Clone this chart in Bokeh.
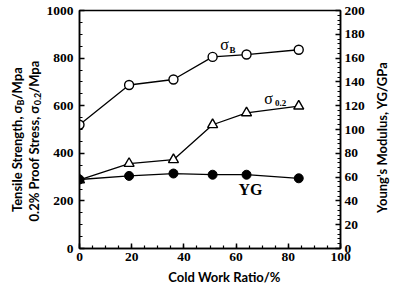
import math
from bokeh.plotting import figure
from bokeh.layouts import row, column
from bokeh.models import Range1d, LinearAxis, SingleIntervalTicker, Label, ColumnDataSource
from bokeh.embed import file_html
from bokeh.resources import INLINE

# ---- data ----
cold_work = [0, 19, 36, 51, 64, 84]          # Cold Work Ratio / %
sigma_b = [520, 687, 710, 805, 815, 835]     # Tensile strength / MPa
sigma_02 = [288, 357, 373, 520, 570, 598]    # 0.2% proof stress / MPa
young = [58, 61, 63, 62, 62, 59]             # Young's modulus / GPa

src = ColumnDataSource(dict(x=cold_work, sb=sigma_b, s02=sigma_02, yg=young))

TICK_FONT = "Liberation Serif"
LAB_FONT = "Lato"
R = math.pi / 2

# layout geometry (canvas px)
H = 283
LEFT_W = 43
FRAME_L, FRAME_R = 79, 340
FRAME_T, FRAME_B = 10, 248
MAIN_W = 368 - LEFT_W
MAIN_H = 268
RIGHT_W = 390 - 368


def blank_fig(w, h):
    f = figure(width=w, height=h, x_range=Range1d(0, w), y_range=Range1d(h, 0),
               output_backend="svg", toolbar_location=None,
               x_axis_type=None, y_axis_type=None,
               min_border=0, min_border_left=0, min_border_right=0,
               min_border_top=0, min_border_bottom=0)
    f.grid.visible = False
    f.outline_line_color = None
    f.background_fill_color = "white"
    f.border_fill_color = "white"
    return f


def lab(fig, text, x, y, font, size, style="normal", align="center", angle=0.0):
    fig.add_layout(Label(x=x, y=y, text=text, text_font=font, text_font_size=size,
                         text_font_style=style, text_align=align, text_baseline="middle",
                         angle=angle, text_color="black"))


# ---------------- main plot ----------------
p = figure(width=MAIN_W, height=MAIN_H, x_range=Range1d(0, 100), y_range=Range1d(0, 1000),
           output_backend="svg", toolbar_location=None,
           min_border_left=FRAME_L - LEFT_W, min_border_right=368 - FRAME_R,
           min_border_top=FRAME_T, min_border_bottom=MAIN_H - FRAME_B)
p.extra_y_ranges = {"yg": Range1d(0, 200)}
p.grid.visible = False
p.outline_line_color = "black"
p.outline_line_width = 1.5
p.background_fill_color = "white"
p.border_fill_color = "white"


def style_axis(ax, standoff):
    ax.axis_line_color = "black"
    ax.axis_line_width = 1.5
    ax.major_tick_in = 5
    ax.major_tick_out = 0
    ax.minor_tick_in = 3
    ax.minor_tick_out = 0
    ax.major_tick_line_width = 1.5
    ax.minor_tick_line_width = 1.2
    ax.major_label_text_font = TICK_FONT
    ax.major_label_text_font_style = "bold"
    ax.major_label_text_font_size = "13.5px"
    ax.major_label_text_color = "black"
    ax.major_label_standoff = standoff


xa = p.xaxis[0]
xa.ticker = SingleIntervalTicker(interval=20, num_minor_ticks=4)
style_axis(xa, 4)

ya = p.yaxis[0]
ya.ticker = SingleIntervalTicker(interval=200, num_minor_ticks=4)
style_axis(ya, 6)

ra = LinearAxis(y_range_name="yg", ticker=SingleIntervalTicker(interval=20, num_minor_ticks=5))
style_axis(ra, 4)
p.add_layout(ra, "right")

# series
p.line("x", "s02", source=src, line_color="black", line_width=1.3)
p.scatter("x", "s02", source=src, marker="triangle", size=10, fill_color="white",
          line_color="black", line_width=1.4)
p.line("x", "yg", source=src, y_range_name="yg", line_color="black", line_width=1.3)
p.scatter("x", "yg", source=src, y_range_name="yg", marker="circle", size=9,
          fill_color="black", line_color="black")
p.line("x", "sb", source=src, line_color="black", line_width=1.3)
p.scatter("x", "sb", source=src, marker="circle", size=9, fill_color="white",
          line_color="black", line_width=1.4)


def xd(px):   # reference image x -> data x
    return (px - 79) / 261 * 100


def yr(py):   # reference image y -> data y (reference frame 10..252)
    return (252 - py) / 242 * 1000


lab(p, "σ", xd(224), yr(45), TICK_FONT, "16px")
lab(p, "B", xd(232), yr(50), TICK_FONT, "9px", "bold")
lab(p, "σ", xd(268), yr(99), TICK_FONT, "16px")
lab(p, "0.2", xd(280), yr(104), TICK_FONT, "9px", "bold")
lab(p, "YG", xd(250), yr(192), TICK_FONT, "16px", "bold")


def ty(py):   # reference image y -> this layout's canvas y
    return FRAME_T + (py - 10) * (FRAME_B - FRAME_T) / 242


# ---------------- left title ----------------
lf = blank_fig(LEFT_W, H)
lab(lf, "Tensile Strength, σ", 16, ty(106.5), LAB_FONT, "13px", "bold", "right", R)
lab(lf, "B", 20, ty(103.5), LAB_FONT, "9px", "bold", "center", R)
lab(lf, "/Mpa", 16, ty(100.5), LAB_FONT, "13px", "bold", "left", R)

lab(lf, "0.2% Proof Stress, σ", 33, ty(106.5), LAB_FONT, "13px", "bold", "right", R)
lab(lf, "0.2", 37, ty(100), LAB_FONT, "9px", "bold", "center", R)
lab(lf, "/Mpa", 33, ty(93.8), LAB_FONT, "13px", "bold", "left", R)

# ---------------- right title ----------------
rf = blank_fig(RIGHT_W, H)
lab(rf, "Young's Modulus, YG/GPa", 13, ty(139), LAB_FONT, "13px", "bold", "center", R)

# ---------------- bottom title ----------------
bf = blank_fig(MAIN_W, H - MAIN_H)
lab(bf, "Cold Work Ratio/%", 223.5 - LEFT_W, 276 - MAIN_H, LAB_FONT, "13px", "bold", "center")

layout = row(lf, column(p, bf, spacing=0), rf, spacing=0)

open("out.html", "w").write(file_html(layout, INLINE))
